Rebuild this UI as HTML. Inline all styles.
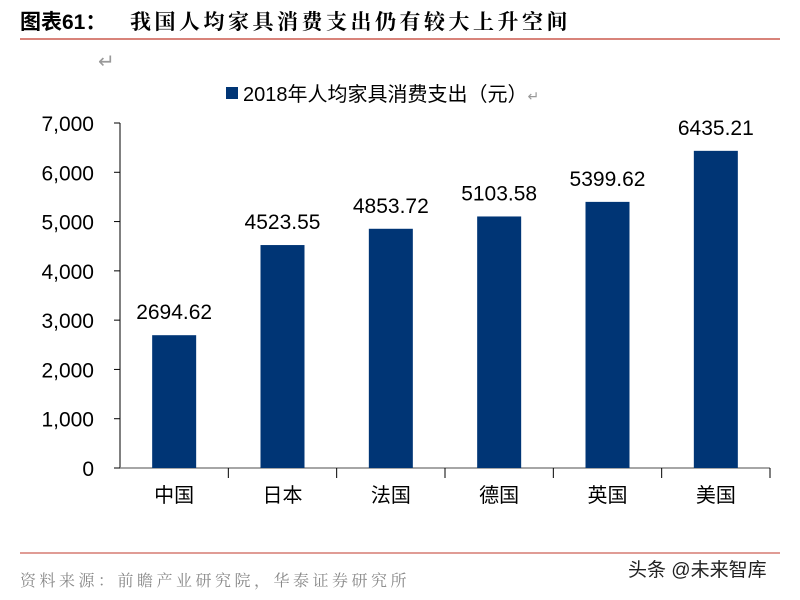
<!DOCTYPE html>
<html><head><meta charset="utf-8"><style>
body{margin:0;background:#fff;}
svg text{font-family:"Liberation Sans","Noto Sans CJK SC",sans-serif;}
.cn{font-family:"Noto Serif CJK SC","Noto Sans CJK SC",serif;}
</style></head><body>
<svg width="800" height="595">
<text x="20" y="29" font-size="21" font-weight="bold" class="cn"><tspan font-family="Liberation Sans, Noto Sans CJK SC, sans-serif">图表61：</tspan><tspan x="130" letter-spacing="3.5">我国人均家具消费支出仍有较大上升空间</tspan></text>
<line x1="20" y1="39" x2="780" y2="39" stroke="#c0392b" stroke-width="1.2"/>
<text x="98" y="68" font-size="20" fill="#999">↵</text>
<rect x="226" y="87" width="12" height="12" fill="#003575"/>
<text x="243" y="101" font-size="20">2018年人均家具消费支出（元）<tspan fill="#999" font-size="14">↵</tspan></text>
<g id="plot"></g>
<line x1="20" y1="553" x2="780" y2="553" stroke="#c0392b" stroke-width="1"/>
<text x="20" y="586" font-size="16" fill="#888" class="cn" letter-spacing="3.5">资料来源：前瞻产业研究院，华泰证券研究所</text>
<text x="628" y="576" font-size="19" fill="#222" font-family="Noto Sans CJK SC">头条 @未来智库</text>
</svg>
<script>
const categories=["中国","日本","法国","德国","英国","美国"];
const values=[2694.62,4523.55,4853.72,5103.58,5399.62,6435.21];
const valueLabels=["2694.62","4523.55","4853.72","5103.58","5399.62","6435.21"];
const ticks=[0,1000,2000,3000,4000,5000,6000,7000];
const tickLabels=["0","1,000","2,000","3,000","4,000","5,000","6,000","7,000"];
const NS="http://www.w3.org/2000/svg";
const g=document.getElementById("plot");
const x0=120,x1=770,y0=468,yTop=123,yMax=7000;
const y=v=>y0-(v/yMax)*(y0-yTop);
const bw=(x1-x0)/categories.length;
const xc=i=>x0+bw*(i+0.5);
function mk(t,a){const e=document.createElementNS(NS,t);for(const k in a)e.setAttribute(k,a[k]);g.appendChild(e);return e;}
ticks.forEach((t,i)=>{
 const l=mk("line",{x1:x0-6,x2:x0,y1:y(t),y2:y(t),stroke:"#000"});
 
 
 const tx=mk("text",{x:x0-26,y:y(t)+8,"font-size":21,"text-anchor":"end"});
 tx.textContent=tickLabels[i];
 
 
});
const ya=mk("line",{x1:x0,x2:x0,y1:yTop,y2:y0,stroke:"#000"});


const xa=mk("line",{x1:x0,x2:x1,y1:y0,y2:y0,stroke:"#888","stroke-width":1.5});


categories.forEach((c,i)=>{
 const tk=mk("line",{x1:x0+bw*(i+1),x2:x0+bw*(i+1),y1:y0,y2:y0+10,stroke:"#000"});
 
 
 const r=mk("rect",{x:xc(i)-22,y:y(values[i]),width:44,height:y0-y(values[i]),fill:"#003575"});
 
 
 const vl=mk("text",{x:xc(i),y:y(values[i])-16,"font-size":21,"text-anchor":"middle"});
 vl.textContent=valueLabels[i];
 
 
 const cl=mk("text",{x:xc(i),y:502,"font-size":20,"text-anchor":"middle","font-family":"Noto Serif CJK SC, serif"});
 cl.textContent=c;
 
 
});
</script>
</body></html>
